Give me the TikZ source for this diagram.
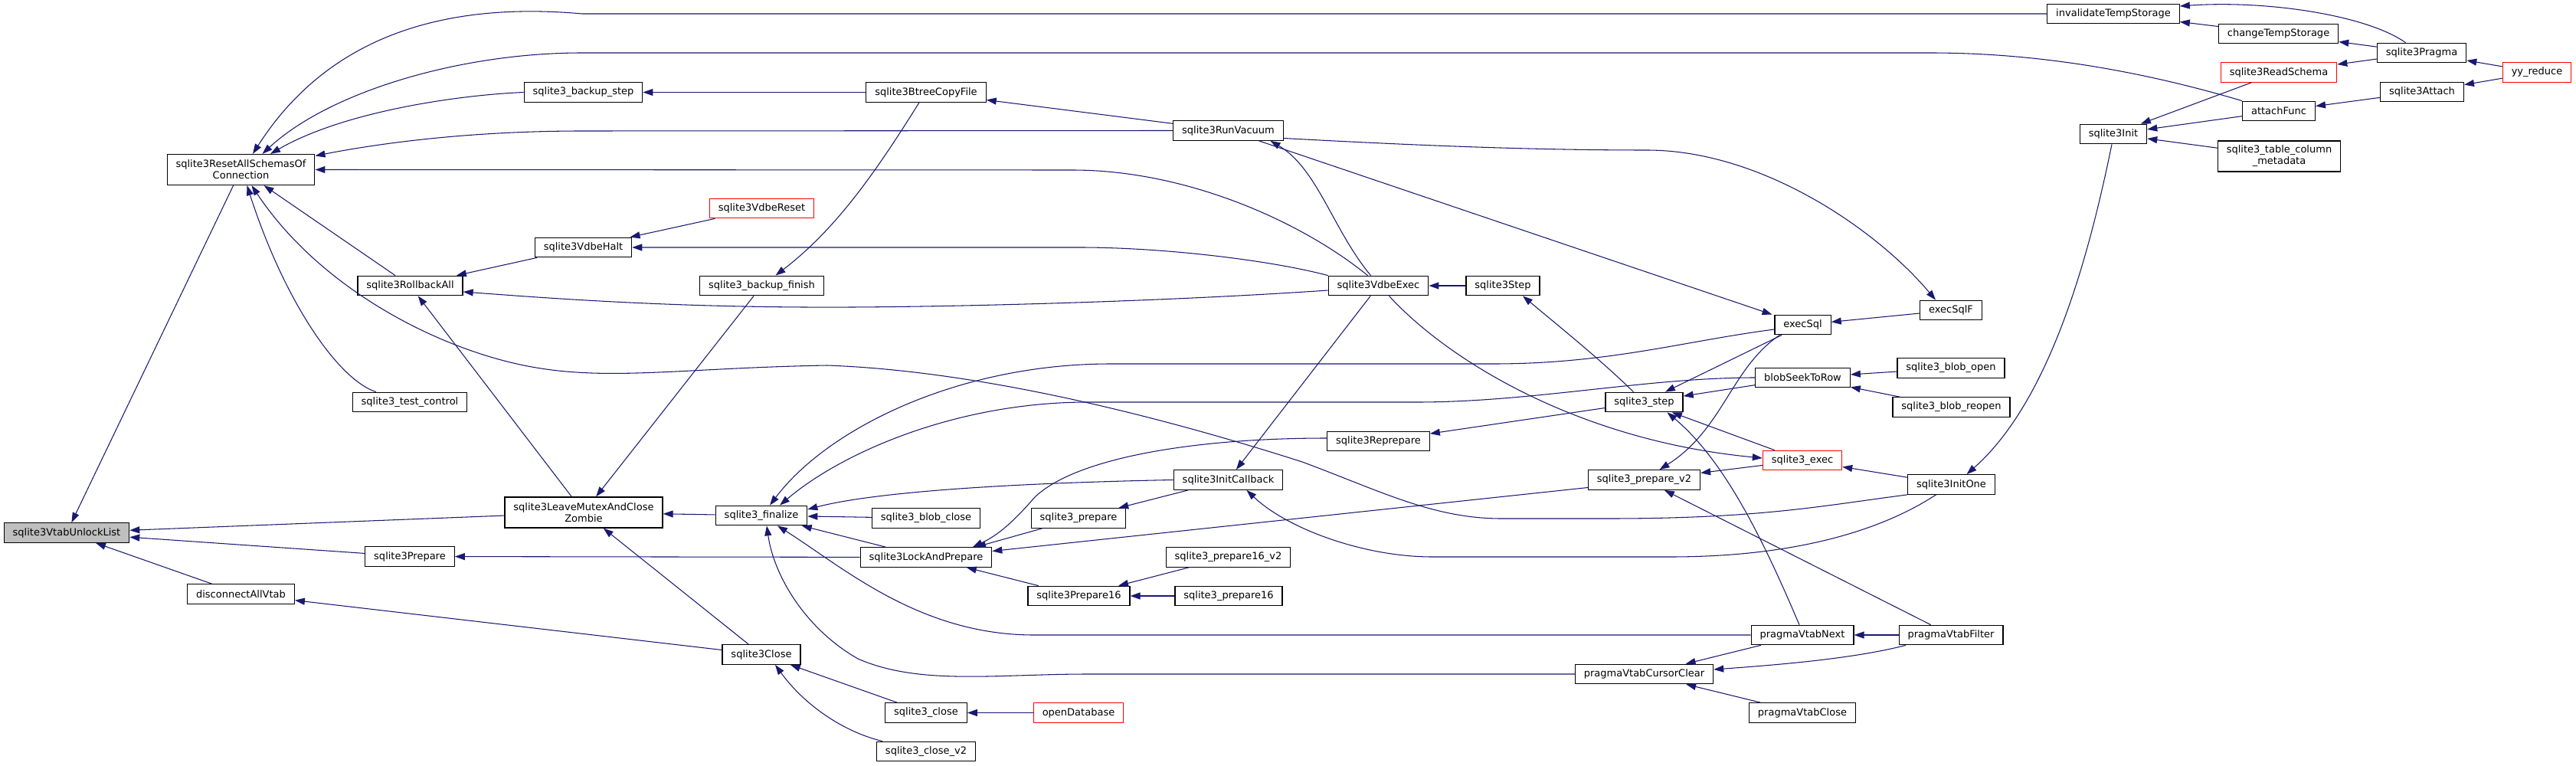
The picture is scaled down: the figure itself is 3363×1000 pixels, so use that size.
\documentclass[tikz,border=0pt]{standalone}
\usepackage{fontspec}
\setmainfont{DejaVu Sans}
\usepackage{xcolor}
\usepackage{tikz}
\usetikzlibrary{arrows.meta}
\definecolor{edgeblue}{RGB}{25,25,112}
\definecolor{rootgrey}{RGB}{191,191,191}

\begin{document}
\begin{tikzpicture}[
    x=0.02cm, y=-0.02cm,
    font=\fontsize{7.4}{8.5}\selectfont,
    func/.style={draw=black, fill=white, line width=0.7pt, align=center,
        minimum height=0.51cm, inner xsep=6.5pt, inner ysep=1pt},
    tall/.style={minimum height=0.8cm},
    trunc/.style={func, draw=red},
    focus/.style={func, fill=rootgrey},
    link/.style={draw=edgeblue, line width=0.6pt,
        -{Triangle[length=0.26cm, width=0.18cm]}}
]
\fill[white] (0,0) rectangle (3363,1000);
\useasboundingbox (0,0) rectangle (3363,1000);

% left ranks
\node[focus] (vtabunlock) at (87,695.5) {sqlite3VtabUnlockList};
\node[func, tall] (resetall) at (314.5,221.5) {sqlite3ResetAllSchemasOf\\Connection};
\node[func] (disconnect) at (314.5,775.5) {disconnectAllVtab};
\node[func] (rollback) at (535.5,373) {sqlite3RollbackAll};
\node[func] (testcontrol) at (535,525) {sqlite3\_test\_control};
\node[func] (prepare) at (535,726.5) {sqlite3Prepare};
\node[func] (backupstep) at (761.5,120.5) {sqlite3\_backup\_step};
\node[func] (vdbehalt) at (761.5,323) {sqlite3VdbeHalt};
\node[func, tall] (leavemutex) at (762,669) {sqlite3LeaveMutexAndClose\\Zombie};
\node[trunc] (vdbereset) at (994.5,272) {sqlite3VdbeReset};
\node[func] (backupfinish) at (994.5,373) {sqlite3\_backup\_finish};
\node[func] (finalize) at (994,673) {sqlite3\_finalize};
\node[func] (close) at (994,854.5) {sqlite3Close};

% middle ranks
\node[func] (btreecopy) at (1209,120.5) {sqlite3BtreeCopyFile};
\node[func] (blobclose) at (1209,676.5) {sqlite3\_blob\_close};
\node[func] (lockprep) at (1209,727.5) {sqlite3LockAndPrepare};
\node[func] (sqlclose) at (1209,930.5) {sqlite3\_close};
\node[func] (closev2) at (1209,981) {sqlite3\_close\_v2};
\node[func] (sqlprepare) at (1408,676.5) {sqlite3\_prepare};
\node[func] (prep16) at (1408.5,778) {sqlite3Prepare16};
\node[trunc] (opendb) at (1408,930.5) {openDatabase};
\node[func] (runvacuum) at (1603.5,170.5) {sqlite3RunVacuum};
\node[func] (initcallback) at (1603.5,626.5) {sqlite3InitCallback};
\node[func] (prep16v2) at (1603.5,727.5) {sqlite3\_prepare16\_v2};
\node[func] (prep16b) at (1604,778) {sqlite3\_prepare16};
\node[func] (vdbeexec) at (1799.5,373) {sqlite3VdbeExec};
\node[func] (reprepare) at (1799.5,576) {sqlite3Reprepare};
\node[func] (vstep) at (1962,373) {sqlite3Step};
\node[func] (sqlstep) at (2146.5,525) {sqlite3\_step};
\node[func] (preparev2) at (2146.5,626.5) {sqlite3\_prepare\_v2};
\node[func] (cursorclear) at (2146.5,880) {pragmaVtabCursorClear};

% right ranks
\node[func] (execsql) at (2353.5,424) {execSql};
\node[func] (blobseek) at (2353.5,493) {blobSeekToRow};
\node[trunc] (sqlexec) at (2353,601) {sqlite3\_exec};
\node[func] (vtabnext) at (2353,829) {pragmaVtabNext};
\node[func] (vtabclose) at (2353,930.5) {pragmaVtabClose};
\node[func] (execsqlf) at (2547,405) {execSqlF};
\node[func] (blobopen) at (2547,480.5) {sqlite3\_blob\_open};
\node[func] (blobreopen) at (2547.5,531.5) {sqlite3\_blob\_reopen};
\node[func] (initone) at (2547.5,632.5) {sqlite3InitOne};
\node[func] (vtabfilter) at (2547,829) {pragmaVtabFilter};
\node[func] (invalidate) at (2759,18) {invalidateTempStorage};
\node[func] (init) at (2759,175) {sqlite3Init};
\node[func] (changetemp) at (2974.5,44) {changeTempStorage};
\node[trunc] (readschema) at (2975,94.5) {sqlite3ReadSchema};
\node[func] (attachfunc) at (2975,145) {attachFunc};
\node[func, tall] (metadata) at (2975.5,204) {sqlite3\_table\_column\\\_metadata};
\node[func] (pragma) at (3161.5,69) {sqlite3Pragma};
\node[func] (attach) at (3162,120) {sqlite3Attach};
\node[trunc] (yyreduce) at (3312,94.5) {yy\_reduce};

% callers of the focus node
\draw[link] (resetall) -- (vtabunlock);
\draw[link] (leavemutex) -- (vtabunlock);
\draw[link] (prepare) -- (vtabunlock);
\draw[link] (disconnect) -- (vtabunlock);

% callers of sqlite3ResetAllSchemasOfConnection
\draw[link] (invalidate.west) -- (760,18) .. controls (560,0) and (420,60) .. ([shift={(15.5,0)}]resetall.north);
\draw[link] (attachfunc.north west) .. controls (2820,100) and (2680,69) .. (2520,69) -- (760,69) .. controls (600,69) and (430,120) .. ([shift={(28,0)}]resetall.north);
\draw[link] (backupstep.west) .. controls (600,124) and (450,145) .. ([shift={(38.5,0)}]resetall.north);
\draw[link] (runvacuum.west) -- (760,171) .. controls (600,171) and (480,190) .. ([shift={(0,-18)}]resetall.east);
\draw[link] ([shift={(-14,0)}]vdbeexec.north) .. controls (1700,290) and (1550,222) .. (1400,222) -- (resetall.east);
\draw[link] (rollback) -- (resetall);
\draw[link] ([shift={(-44,0)}]testcontrol.north) .. controls (440,495) and (370,390) .. ([shift={(8,0)}]resetall.south);
\draw[link] (initone.south west) .. controls (2380,660) and (2300,677) .. (2100,677) -- (1960,677)
    .. controls (1870,677) and (1800,640) .. (1700,603) .. controls (1550,555) and (1300,485) .. (1080,477)
    .. controls (900,480) and (800,497) .. (700,480) .. controls (580,460) and (420,380) .. ([shift={(14,0)}]resetall.south);

% callers of sqlite3RollbackAll and sqlite3VdbeHalt
\draw[link] (vdbehalt) -- (rollback);
\draw[link] ([shift={(0,6)}]vdbeexec.west) .. controls (1500,395) and (1200,402) .. (1050,401) .. controls (850,400) and (700,388) .. ([shift={(0,8)}]rollback.east);
\draw[link] (leavemutex) -- (rollback);
\draw[link] (vdbereset) -- (vdbehalt);
\draw[link] (vdbeexec.north west) .. controls (1660,340) and (1520,323) .. (1410,323) -- (vdbehalt.east);
\draw[link] (btreecopy) -- (backupstep);

% callers of the zombie closer
\draw[link] (backupfinish) -- (leavemutex);
\draw[link] (finalize) -- (leavemutex);
\draw[link] (close) -- (leavemutex);
\draw[link] (lockprep) -- (prepare);
\draw[link] (close) -- (disconnect);

% callers of sqlite3_finalize
\draw[link] ([shift={(0,6)}]execsql.west) .. controls (2200,445) and (2100,475) .. (1950,475) -- (1450,475) .. controls (1250,475) and (1080,560) .. ([shift={(11,0)}]finalize.north);
\draw[link] (blobseek.west) .. controls (2150,493) and (2000,525) .. (1850,525) -- (1420,525) .. controls (1250,525) and (1100,590) .. ([shift={(24,0)}]finalize.north);
\draw[link] (initcallback.west) .. controls (1350,630) and (1150,640) .. ([shift={(0,-8)}]finalize.east);
\draw[link] (blobclose) -- (finalize);
\draw[link] (lockprep) -- (finalize);
\draw[link] (vtabnext.west) -- (1350,829) .. controls (1200,829) and (1100,740) .. ([shift={(21,0)}]finalize.south);
\draw[link] (cursorclear.west) -- (1420,880) .. controls (1300,880) and (1200,895) .. (1120,860) .. controls (1050,820) and (1010,750) .. ([shift={(7,0)}]finalize.south);

% callers of sqlite3LockAndPrepare
\draw[link] ([shift={(0,-4)}]reprepare.west) .. controls (1550,572) and (1400,600) .. (1350,650) .. controls (1320,685) and (1300,700) .. ([shift={(61,0)}]lockprep.north);
\draw[link] (sqlprepare) -- ([shift={(65,0)}]lockprep.north);
\draw[link] ([shift={(0,10)}]preparev2.west) -- ([shift={(0,-8)}]lockprep.east);
\draw[link] (prep16) -- (lockprep);

% callers of sqlite3InitCallback and the prepare family
\draw[link] (vdbeexec) -- (initcallback);
\draw[link] ([shift={(-20,0)}]initone.south) .. controls (2460,690) and (2350,727) .. (2180,727) -- (1870,727) .. controls (1780,727) and (1680,690) .. ([shift={(24,0)}]initcallback.south);
\draw[link] (initcallback) -- (sqlprepare);
\draw[link] (prep16v2) -- (prep16);
\draw[link] (prep16b) -- (prep16);

% callers of sqlite3Close
\draw[link] (sqlclose) -- (close);
\draw[link] ([shift={(-57,0)}]closev2.north) .. controls (1100,955) and (1050,920) .. ([shift={(18,0)}]close.south);
\draw[link] (opendb) -- (sqlclose);

% vacuum and backup
\draw[link] ([shift={(-10,0)}]vdbeexec.north) .. controls (1740,300) and (1720,220) .. ([shift={(55,0)}]runvacuum.south);
\draw[link] (runvacuum) -- (btreecopy);
\draw[link] ([shift={(-9,0)}]btreecopy.south) .. controls (1140,230) and (1090,300) .. ([shift={(18,0)}]backupfinish.north);
\draw[link] ([shift={(0,10)}]runvacuum.east) .. controls (1850,190) and (2000,196) .. (2150,196) .. controls (2300,196) and (2450,300) .. ([shift={(-20,0)}]execsqlf.north);
\draw[link] ([shift={(40,0)}]runvacuum.south) -- ([shift={(-40,0)}]execsql.north);
\draw[link] (execsqlf) -- (execsql);

% callers of sqlite3_step
\draw[link] (execsql) -- (sqlstep);
\draw[link] (blobseek) -- (sqlstep);
\draw[link] ([shift={(-4,0)}]vtabnext.north) .. controls (2300,700) and (2250,600) .. ([shift={(30,0)}]sqlstep.south);
\draw[link] (sqlexec) -- (sqlstep);
\draw[link] ([shift={(-14,0)}]sqlstep.north) .. controls (2090,470) and (2040,430) .. ([shift={(26,0)}]vstep.south);
\draw[link] (vstep) -- (vdbeexec);
\draw[link] (sqlstep) -- (reprepare);

% sqlite3_exec and sqlite3_prepare_v2
\draw[link] ([shift={(14,0)}]vdbeexec.south) .. controls (1890,470) and (2060,575) .. ([shift={(0,-3)}]sqlexec.west);
\draw[link] ([shift={(-30,0)}]execsql.south) .. controls (2260,480) and (2250,560) .. ([shift={(20,0)}]preparev2.north);
\draw[link] (sqlexec) -- (preparev2);
\draw[link] (initone) -- (sqlexec);
\draw[link] (vtabfilter) -- (preparev2);
\draw[link] (blobopen) -- (blobseek);
\draw[link] (blobreopen) -- (blobseek);

% pragma virtual table cursor
\draw[link] (vtabfilter) -- (vtabnext);
\draw[link] (vtabnext) -- (cursorclear);
\draw[link] ([shift={(-59,0)}]vtabfilter.south) .. controls (2420,860) and (2320,868) .. ([shift={(0,-6)}]cursorclear.east);
\draw[link] (vtabclose) -- (cursorclear);

% schema init, pragma and attach
\draw[link] ([shift={(-2,0)}]init.south) .. controls (2730,320) and (2680,520) .. ([shift={(20,0)}]initone.north);
\draw[link] (readschema) -- (init);
\draw[link] (attachfunc) -- (init);
\draw[link] (metadata) -- (init);
\draw[link] ([shift={(-21,0)}]pragma.north) .. controls (3090,20) and (2960,0) .. ([shift={(0,-10)}]invalidate.east);
\draw[link] (changetemp) -- (invalidate);
\draw[link] (pragma) -- (changetemp);
\draw[link] (pragma) -- (readschema);
\draw[link] (yyreduce) -- (pragma);
\draw[link] (yyreduce) -- (attach);
\draw[link] (attach) -- (attachfunc);
\end{tikzpicture}
\end{document}
